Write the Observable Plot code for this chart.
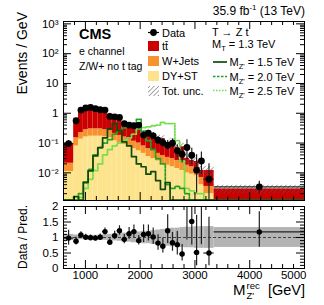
<!DOCTYPE html>
<html><head><meta charset="utf-8">
<script src="https://cdn.jsdelivr.net/npm/d3@7"></script>
<script src="https://cdn.jsdelivr.net/npm/@observablehq/plot@0.6"></script>
<style>
html,body{margin:0;padding:0;background:#fff;}
#wrap{position:relative;width:324px;height:305px;font-family:"Liberation Sans",Arial,Helvetica,sans-serif;}
#wrap svg{position:absolute;left:0;overflow:visible;}
</style></head><body><div id="wrap"></div>
<script>
// ---- data ----
const binEdges = [600, 786, 874, 962, 1050, 1138, 1226, 1314, 1402, 1490, 1578, 1666, 1754, 1842, 1930, 2018, 2106, 2194, 2282, 2370, 2458, 2546, 2634, 2722, 2810, 2898, 2986, 3074, 3162, 3350, 5000];
const dataVals = [0.096, 0.56, 1.28, 1.5, 1.57, 1.42, 1.31, 1.28, 0.78, 0.76, 0.72, 0.45, 0.40, 0.38, 0.40, 0.185, 0.215, 0.175, 0.125, 0.104, 0.085, 0.099, 0.055, 0.042, 0.071, 0.039, 0.0123, 0.025, 0.0061, 0.0034];
const dataErrUp = [0.26, 0.15, 0.1, 0.09, 0.09, 0.09, 0.1, 0.1, 0.13, 0.13, 0.13, 0.17, 0.18, 0.18, 0.18, 0.28, 0.25, 0.28, 0.33, 0.37, 0.42, 0.4, 0.55, 0.65, 0.8, 0.7, 2.3, 1.0, 2.3, 0.55];
const dataErrDn = [0.23, 0.14, 0.09, 0.085, 0.085, 0.085, 0.09, 0.09, 0.12, 0.12, 0.12, 0.15, 0.16, 0.16, 0.16, 0.24, 0.21, 0.24, 0.28, 0.31, 0.34, 0.33, 0.43, 0.48, 0.6, 0.5, 0.83, 0.65, 0.83, 0.42];
const ttbar = [0.077, 0.49, 0.965, 1.2, 1.28, 1.15, 1.0, 0.8, 0.66, 0.51, 0.41, 0.32, 0.245, 0.215, 0.21, 0.11, 0.115, 0.11, 0.105, 0.102, 0.042, 0.08, 0.046, 0.053, 0.013, 0.01, 0.01, 0.005, 0.0085, 0.0023];
const wjets = [0.01, 0.07, 0.09, 0.12, 0.13, 0.13, 0.13, 0.12, 0.11, 0.09, 0.08, 0.07, 0.06, 0.05, 0.045, 0.035, 0.03, 0.025, 0.02, 0.018, 0.015, 0.014, 0.012, 0.01, 0.008, 0.007, 0.006, 0.003, 0.0015, 0.0002];
const dyst = [0.011, 0.08, 0.135, 0.16, 0.17, 0.17, 0.17, 0.16, 0.15, 0.12, 0.1, 0.09, 0.075, 0.065, 0.055, 0.045, 0.035, 0.03, 0.025, 0.02, 0.018, 0.016, 0.014, 0.012, 0.01, 0.009, 0.008, 0.004, 0.002, 0.0004];
const totUnc = [0.1, 0.08, 0.07, 0.07, 0.07, 0.07, 0.08, 0.09, 0.1, 0.11, 0.12, 0.14, 0.15, 0.17, 0.18, 0.2, 0.2, 0.22, 0.24, 0.26, 0.28, 0.3, 0.3, 0.32, 0.33, 0.33, 0.35, 0.35, 0.35, 0.32];
const ratioVals = [0.98, 0.88, 1.08, 1.01, 0.99, 0.98, 1.01, 1.19, 0.85, 1.06, 1.22, 0.94, 1.12, 1.19, 0.90, 1.10, 1.12, 1.02, 0.82, 0.72, 1.22, 0.83, 0.77, 0.47, 2.3, 1.52, 0.52, 2.2, 0.50, 1.18];
const sigM15 = [0, 0.0016, 0, 0.0047, 0.0117, 0.037, 0.07, 0.15, 0.3, 0.45, 0.26, 0.11, 0.08, 0.035, 0.02, 0.016, 0.009, 0.011, 0.0055, 0.0028, 0.0047, 0, 0, 0, 0, 0, 0, 0, 0, 0];
const sigM20 = [0, 0, 0.002, 0.005, 0.013, 0.04, 0.07, 0.1, 0.13, 0.2, 0.26, 0.32, 0.38, 0.45, 0.62, 0.25, 0.12, 0.06, 0.03, 0.02, 0.004, 0.003, 0.0035, 0.003, 0.002, 0, 0, 0, 0, 0];
const sigM25 = [0, 0, 0.0015, 0.003, 0.006, 0.012, 0.02, 0.04, 0.06, 0.08, 0.1, 0.12, 0.15, 0.2, 0.3, 0.33, 0.35, 0.38, 0.4, 0.49, 0.45, 0.45, 0.12, 0.025, 0.003, 0.0025, 0.002, 0.002, 0, 0];
const xTickLabels = ["1000", "2000", "3000", "4000", "5000"];
const xTickValues = [1000, 2000, 3000, 4000, 5000];
const yTickValues = [0.01, 0.1, 1, 10, 100, 1000];
const yTickLabels = ["10\u207B\u00B2", "10\u207B\u00B9", "1", "10", "10\u00B2", "10\u00B3"];
const rTickValues = [0, 0.5, 1, 1.5, 2];
const rTickLabels = ["0", "0.5", "1", "1.5", "2"];

// ---- styling ----
const C_TT = "#cc0000", C_WJ = "#f7932f", C_DY = "#fde38b";
const C_S15 = "#0e4a0e", C_S20 = "#22a022", C_S25 = "#74dd50";
const FONT = '"Liberation Sans", Arial, Helvetica, sans-serif';
const YMIN = 0.00118, YMAX = 1200;

// ---- tables built from the arrays ----
const bins = binEdges.slice(0, -1).map((lo, i) => {
  const hi = binEdges[i + 1];
  const tot = ttbar[i] + wjets[i] + dyst[i];
  return {lo, hi, c: (lo + hi) / 2, data: dataVals[i], up: dataErrUp[i], dn: dataErrDn[i],
    dy: dyst[i], wj: wjets[i], tt: ttbar[i], tot, u: totUnc[i], r: ratioVals[i]};
});
function steps(vals) {
  const pts = [];
  bins.forEach((b, i) => {
    const v = Math.max(vals[i], YMIN * 1.04);
    pts.push({x: b.lo, y: v}, {x: b.hi, y: v});
  });
  return pts;
}
function decadeMinors(lo, hi) {
  const out = [];
  for (let e = lo; e <= hi; e++) for (let k = 2; k <= 9; k++) out.push(k * Math.pow(10, e));
  return out;
}
const xMinor = d3.range(600, 5001, 200).filter(v => v % 1000 !== 0);
const yMinor = decadeMinors(-3, 3).filter(v => v > YMIN && v < YMAX);
const rMinor = d3.range(0, 2.001, 0.1).map(v => +v.toFixed(1)).filter(v => !rTickValues.includes(v));

const W = 324, ML = 63, MR = 20;
const FW = W - ML - MR;
// top panel
const H1 = 203, MT1 = 21, MB1 = 3, FH1 = H1 - MT1 - MB1;
function frameTicks(xMaj, xMin, yMaj, yMin, FH) {
  const big = 8, small = 4;
  return [
    Plot.tickX(xMaj, {x: d => d, insetTop: FH - big, stroke: "black"}),
    Plot.tickX(xMaj, {x: d => d, insetBottom: FH - big, stroke: "black"}),
    Plot.tickX(xMin, {x: d => d, insetTop: FH - small, stroke: "black"}),
    Plot.tickX(xMin, {x: d => d, insetBottom: FH - small, stroke: "black"}),
    Plot.tickY(yMaj, {y: d => d, insetRight: FW - big, stroke: "black"}),
    Plot.tickY(yMaj, {y: d => d, insetLeft: FW - big, stroke: "black"}),
    Plot.tickY(yMin, {y: d => d, insetRight: FW - small, stroke: "black"}),
    Plot.tickY(yMin, {y: d => d, insetLeft: FW - small, stroke: "black"})
  ];
}

const topPlot = Plot.plot({
  width: W, height: H1, marginLeft: ML, marginRight: MR, marginTop: MT1, marginBottom: MB1,
  style: {fontFamily: FONT, fontSize: "11px", background: "transparent", overflow: "visible"},
  x: {domain: [600, 5000], axis: null},
  y: {type: "log", domain: [YMIN, YMAX], axis: null},
  marks: [
    Plot.rect(bins, {x1: "lo", x2: "hi", y1: YMIN / 10, y2: "dy", fill: C_DY, clip: true}),
    Plot.rect(bins, {x1: "lo", x2: "hi", y1: "dy", y2: d => d.dy + d.wj, fill: C_WJ, clip: true}),
    Plot.rect(bins, {x1: "lo", x2: "hi", y1: d => d.dy + d.wj, y2: "tot", fill: C_TT, clip: true}),
    Plot.rect(bins, {x1: "lo", x2: "hi", y1: d => d.tot * (1 - d.u), y2: d => d.tot * (1 + d.u), fill: "url(#hatchTop)", clip: true}),
    Plot.line(steps(sigM25), {x: "x", y: "y", stroke: C_S25, strokeWidth: 1.8, strokeDasharray: "1.5,1.5", clip: true}),
    Plot.line(steps(sigM20), {x: "x", y: "y", stroke: C_S20, strokeWidth: 1.7, strokeDasharray: "2.5,1.5", clip: true}),
    Plot.line(steps(sigM15), {x: "x", y: "y", stroke: C_S15, strokeWidth: 1.7, clip: true}),
    Plot.ruleX(bins, {x: "c", y1: d => d.data * (1 - d.dn), y2: d => d.data * (1 + d.up), stroke: "#222", strokeWidth: 1.2, clip: true}),
    Plot.ruleY(bins, {x1: "lo", x2: "hi", y: "data", stroke: "#222", strokeWidth: 1.2, clip: true}),
    Plot.dot(bins, {x: "c", y: "data", r: 3.4, fill: "black", stroke: null, clip: true}),
    ...frameTicks(xTickValues, xMinor, yTickValues, yMinor, FH1),
    Plot.axisY(yTickValues, {anchor: "left", tickSize: 0, tickPadding: 5, label: null, fontSize: 11.5,
      tickFormat: d => yTickLabels[yTickValues.indexOf(d)]}),
    Plot.frame({stroke: "black", strokeWidth: 1})
  ]
});

// ratio panel
const H2 = 105, MT2 = 6, MB2 = 37, FH2 = H2 - MT2 - MB2;
const botPlot = Plot.plot({
  width: W, height: H2, marginLeft: ML, marginRight: MR, marginTop: MT2, marginBottom: MB2,
  style: {fontFamily: FONT, fontSize: "11px", background: "transparent", overflow: "visible"},
  x: {domain: [600, 5000], axis: null},
  y: {domain: [0, 2], axis: null},
  marks: [
    Plot.rect(bins, {x1: "lo", x2: "hi", y1: d => 1 - d.u, y2: d => 1 + d.u, fill: "#b3b3b3", clip: true}),
    Plot.ruleY([1], {stroke: "#333", strokeWidth: 0.9, strokeDasharray: "3,2"}),
    Plot.ruleX(bins, {x: "c", y1: d => d.r * (1 - d.dn), y2: d => d.r * (1 + d.up), stroke: "#222", strokeWidth: 1.2, clip: true}),
    Plot.ruleY(bins, {x1: "lo", x2: "hi", y: "r", stroke: "#222", strokeWidth: 1.2, clip: true}),
    Plot.dot(bins, {x: "c", y: "r", r: 2.7, fill: "black", stroke: null, clip: true}),
    ...frameTicks(xTickValues, xMinor, rTickValues, rMinor, FH2),
    Plot.axisY(rTickValues, {anchor: "left", tickSize: 0, tickPadding: 5, label: null, fontSize: 11.5,
      tickFormat: d => rTickLabels[rTickValues.indexOf(d)]}),
    Plot.text(xTickValues.slice(0, -1), {x: d => d, y: 0, dy: 7, text: d => xTickLabels[xTickValues.indexOf(d)], fontSize: 11.5, textAnchor: "middle"}),
    Plot.text(xTickValues.slice(-1), {x: d => d, y: 0, dy: 7, dx: 2, text: d => xTickLabels[xTickValues.indexOf(d)], fontSize: 11.5, textAnchor: "end"}),
    Plot.frame({stroke: "black", strokeWidth: 1})
  ]
});

const wrap = document.getElementById("wrap");
topPlot.style.top = "0px";
botPlot.style.top = "200px";
wrap.appendChild(topPlot);
wrap.appendChild(botPlot);

const hatchDef = (id) => `<pattern id="${id}" width="3.2" height="3.2" patternUnits="userSpaceOnUse" patternTransform="rotate(45)"><line x1="0" y1="0" x2="0" y2="3.2" stroke="#555" stroke-width="1"/></pattern>`;
d3.select(topPlot).insert("defs", ":first-child").html(hatchDef("hatchTop"));

// ---- overlay: texts and legend ----
const ov = d3.select(wrap).append("svg").attr("width", W).attr("height", 305)
  .style("top", "0px").style("font-family", FONT).style("pointer-events", "none");
ov.append("defs").html(hatchDef("hatchLeg"));

const lumi = ov.append("text").attr("x", 305).attr("y", 15).attr("text-anchor", "end").attr("font-size", 12);
lumi.append("tspan").text("35.9 fb");
lumi.append("tspan").attr("dy", -5).attr("font-size", 8).text("-1");
lumi.append("tspan").attr("dy", 5).text(" (13 TeV)");

ov.append("text").attr("transform", "translate(26.5,12) rotate(-90)").attr("text-anchor", "end").attr("font-size", 14).text("Events / GeV");
ov.append("text").attr("transform", "translate(27,205) rotate(-90)").attr("text-anchor", "end").attr("font-size", 12).text("Data / Pred.");

ov.append("text").attr("x", 79).attr("y", 39).attr("font-size", 14.5).attr("font-weight", "bold").text("CMS");
ov.append("text").attr("x", 79).attr("y", 55).attr("font-size", 10.5).text("e channel");
ov.append("text").attr("x", 79).attr("y", 70).attr("font-size", 10.5).text("Z/W+ no t tag");

const LF = 11;
// Data entry
ov.append("line").attr("x1", 148).attr("x2", 159).attr("y1", 32.5).attr("y2", 32.5).attr("stroke", "black").attr("stroke-width", 1.2);
ov.append("circle").attr("cx", 153.5).attr("cy", 32.5).attr("r", 3.4).attr("fill", "black");
ov.append("text").attr("x", 162).attr("y", 36.5).attr("font-size", LF).text("Data");
const boxes = [
  {fill: C_TT, label: "tt\u0304", y: 41},
  {fill: C_WJ, label: "W+Jets", y: 56},
  {fill: C_DY, label: "DY+ST", y: 71},
  {fill: "url(#hatchLeg)", label: "Tot. unc.", y: 86}
];
boxes.forEach(b => {
  ov.append("rect").attr("x", 148).attr("y", b.y).attr("width", 11).attr("height", 10).attr("fill", b.fill);
  ov.append("text").attr("x", 162).attr("y", b.y + 9).attr("font-size", LF).text(b.label);
});
ov.append("text").attr("x", 212).attr("y", 35.5).attr("font-size", LF).text("T \u2192 Z t");
const mt = ov.append("text").attr("x", 212).attr("y", 47.5).attr("font-size", LF);
mt.append("tspan").text("M");
mt.append("tspan").attr("dy", 3).attr("font-size", 7.5).text("T");
mt.append("tspan").attr("dy", -3).text(" = 1.3 TeV");
const sigLeg = [
  {stroke: C_S15, dash: null, label: "1.5 TeV", y: 62},
  {stroke: C_S20, dash: "2.5,1.5", label: "2.0 TeV", y: 76.5},
  {stroke: C_S25, dash: "1.5,1.5", label: "2.5 TeV", y: 90.5}
];
sigLeg.forEach(s => {
  ov.append("line").attr("x1", 213).attr("x2", 227).attr("y1", s.y).attr("y2", s.y)
    .attr("stroke", s.stroke).attr("stroke-width", 1.7).attr("stroke-dasharray", s.dash);
  const t = ov.append("text").attr("x", 229.5).attr("y", s.y + 4).attr("font-size", LF);
  t.append("tspan").text("M");
  t.append("tspan").attr("dy", 3).attr("font-size", 7.5).text("Z'");
  t.append("tspan").attr("dy", -3).text(" = " + s.label);
});

// x-axis title
ov.append("text").attr("x", 233).attr("y", 294.5).attr("font-size", 15).text("M");
ov.append("text").attr("x", 246.5).attr("y", 289).attr("font-size", 9.5).text("rec");
ov.append("text").attr("x", 246.5).attr("y", 299).attr("font-size", 9.5).text("Z'");
ov.append("text").attr("x", 305).attr("y", 294.5).attr("font-size", 14.5).attr("text-anchor", "end").text("[GeV]");
</script>
</body></html>
